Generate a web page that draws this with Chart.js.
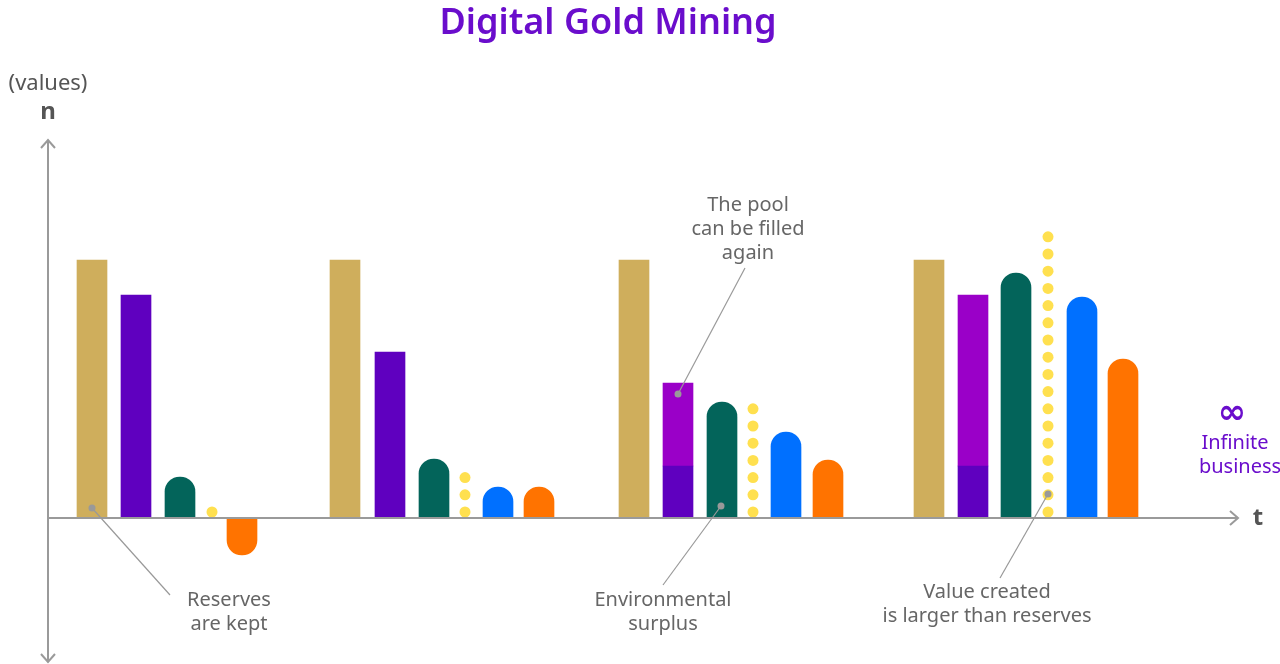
<!DOCTYPE html>
<html><head><meta charset="utf-8">
<script src="https://cdn.jsdelivr.net/npm/chart.js@4"></script>
<style>html,body{margin:0;background:#fff}#c{display:block}</style>
</head><body>
<div style="width:1280px;height:664px"><canvas id="c"></canvas></div>
<script>
// values measured from baseline (0) upward, x = position along t
const goldBars = [{x: 92, y: 258}, {x: 345, y: 258}, {x: 634, y: 258}, {x: 929, y: 258}];
const purpleBars = [{x: 136, y: 223}, {x: 390, y: 166}];
const poolBase = [{x: 678, y: [0, 52]}, {x: 973, y: [0, 52]}];
const poolFill = [{x: 678, y: [52, 135]}, {x: 973, y: [52, 223]}];
const greenBars = [{x: 180, y: 41}, {x: 434, y: 59}, {x: 722, y: 116}, {x: 1016, y: 245}];
const blueBars = [{x: 498, y: 31}, {x: 786, y: 86}, {x: 1082, y: 221}];
const orangeBars = [{x: 242, y: -37}, {x: 539, y: 31}, {x: 828, y: 58}, {x: 1123, y: 159}];
const dotCols = [{x: 212, n: 1}, {x: 465, n: 3}, {x: 753, n: 7}, {x: 1048, n: 17}];
const dotStep = 17.2, dotStart = 6;
const dots = [];
dotCols.forEach(c => { for (let i = 0; i < c.n; i++) dots.push({x: c.x, y: dotStart + i * dotStep}); });

const notes = [
  {lines: ['Reserves', 'are kept'], tx: 229, ty: 600, from: [92, 10], to: [170, -77]},
  {lines: ['The pool', 'can be filled', 'again'], tx: 748, ty: 205, from: [678, 124], to: [745, 250]},
  {lines: ['Environmental', 'surplus'], tx: 663, ty: 600, from: [721, 12], to: [663, -67]},
  {lines: ['Value created', 'is larger than reserves'], tx: 987, ty: 592, from: [1048, 24], to: [1000, -60]}
];

const bar = (data, color, radius) => ({
  type: 'bar', data, backgroundColor: color, barThickness: 30,
  borderRadius: radius, borderSkipped: 'start', grouped: false
});

const decor = {
  id: 'decor',
  afterDatasetsDraw(chart) {
    const {ctx, scales: {x, y}} = chart;
    const px = v => x.getPixelForValue(v), py = v => y.getPixelForValue(v);
    ctx.save();
    ctx.strokeStyle = '#9a9a9a'; ctx.lineWidth = 2;
    ctx.beginPath();
    ctx.moveTo(px(48), py(378)); ctx.lineTo(px(48), py(-144));
    ctx.moveTo(px(48), py(0)); ctx.lineTo(px(1238), py(0));
    ctx.moveTo(px(41), py(370)); ctx.lineTo(px(48), py(378)); ctx.lineTo(px(55), py(370));
    ctx.moveTo(px(41), py(-136)); ctx.lineTo(px(48), py(-144)); ctx.lineTo(px(55), py(-136));
    ctx.moveTo(px(1230), py(7)); ctx.lineTo(px(1238), py(0)); ctx.lineTo(px(1230), py(-7));
    ctx.stroke();
    ctx.textAlign = 'center'; ctx.textBaseline = 'middle';
    ctx.fillStyle = '#6a0dcc';
    ctx.font = '600 36px "Noto Sans"';
    ctx.fillText('Digital Gold Mining', 608, 24);
    ctx.fillStyle = '#555';
    ctx.font = '22px "Noto Sans"';
    ctx.fillText('(values)', 48, 84);
    ctx.font = 'bold 24px "Noto Sans"';
    ctx.fillText('n', 48, 112);
    ctx.fillText('t', 1258, 518);
    ctx.fillStyle = '#6a0dcc';
    ctx.font = 'bold 34px "DejaVu Sans"';
    ctx.fillText('∞', 1232, 414);
    ctx.font = '20px "Noto Sans"';
    ctx.fillText('Infinite', 1235, 443);
    ctx.fillText('business', 1240, 467);
    notes.forEach(n => {
      ctx.strokeStyle = '#999'; ctx.lineWidth = 1.2;
      ctx.beginPath();
      ctx.moveTo(px(n.from[0]), py(n.from[1])); ctx.lineTo(px(n.to[0]), py(n.to[1]));
      ctx.stroke();
      ctx.fillStyle = '#999';
      ctx.beginPath(); ctx.arc(px(n.from[0]), py(n.from[1]), 3.5, 0, Math.PI * 2); ctx.fill();
      ctx.fillStyle = '#666'; ctx.font = '20px "Noto Sans"';
      n.lines.forEach((l, i) => ctx.fillText(l, n.tx, n.ty + i * 24));
    });
    ctx.restore();
  }
};

new Chart(document.getElementById('c'), {
  data: {
    datasets: [
      bar(goldBars, '#cfae5c', 0),
      bar(purpleBars, '#5f00bf', 0),
      bar(poolBase, '#5f00bf', 0),
      bar(poolFill, '#9a00c8', 0),
      bar(greenBars, '#03645a', 15),
      bar(blueBars, '#0070ff', 15),
      bar(orangeBars, '#ff7300', 15),
      {type: 'scatter', data: dots, pointRadius: 5.5, pointBackgroundColor: '#ffe04f', pointBorderWidth: 0}
    ]
  },
  options: {
    responsive: true, maintainAspectRatio: false, animation: false,
    layout: {padding: 0, autoPadding: false},
    plugins: {legend: {display: false}, tooltip: {enabled: false}},
    scales: {
      x: {type: 'linear', min: 0, max: 1280, display: false, offset: false},
      y: {type: 'linear', min: -146, max: 518, display: false, offset: false}
    }
  },
  plugins: [decor]
});
</script>
</body></html>
